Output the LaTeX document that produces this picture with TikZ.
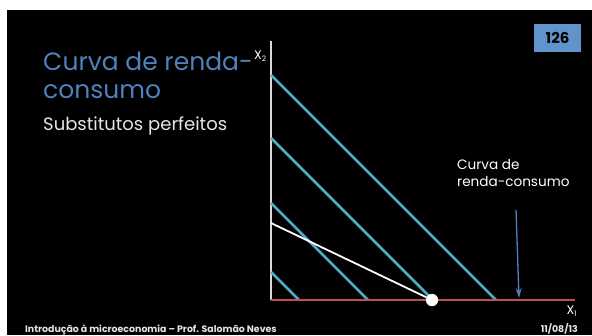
\documentclass[tikz,border=0pt]{standalone}
\usepackage{fontspec}
\setmainfont{Poppins}
\usepackage{tikz}
\usetikzlibrary{arrows.meta,positioning,calc}
\definecolor{cTitle} {RGB}{79,129,189}
\definecolor{cBudget}{RGB}{75,172,198}
\definecolor{cPath}  {RGB}{192,80,77}
\definecolor{cBox}   {RGB}{97,148,204}
\definecolor{cText}  {RGB}{230,230,225}
\tikzset{
  >={Stealth[length=10pt,width=6pt]},
  title/.style={anchor=base west,inner sep=0pt,text=cTitle,font=\fontsize{25}{28}\selectfont},
  sub/.style={anchor=base west,inner sep=0pt,text=cText,font=\fontsize{18}{20}\selectfont},
  lbl/.style={anchor=base west,inner sep=0pt,text=white,font=\fontsize{13.6}{17}\selectfont,align=left},
  axlbl/.style={inner sep=0pt,text=white,font=\fontsize{12.5}{13}\selectfont},
  foot/.style={anchor=base west,inner sep=0pt,text=cText,font=\fontsize{9.4}{10}\selectfont\bfseries},
  axis/.style={-,white!85!black,line width=1.6pt},
  budget/.style={-,cBudget,line width=2.6pt},
  icc/.style={-,cPath,line width=2.6pt},
  pline/.style={-,white,line width=1.8pt},
  optpt/.style={draw=white,fill=white,circle,minimum size=12pt,inner sep=0pt},
  numbox/.style={fill=cBox,minimum width=47pt,minimum height=28pt,inner sep=0pt,
                 font=\fontsize{15}{16}\selectfont\bfseries,text=black},
}
\begin{document}
\begin{tikzpicture}[x=1pt,y=-1pt]
  \useasboundingbox (0,0) rectangle (592,335);
  \fill[black] (7,10) rectangle (592,335);
  % slide texts
  \node[title] (t1) at (43,70) {Curva de renda-};
  \node[title] (t2) at (43,98) {consumo};
  \node[sub]   (st) at (43,130) {Substitutos perfeitos};
  \node[numbox](pg) at (557.5,38) {126};
  % axes
  \coordinate (O)    at (271,300);
  \coordinate (ytop) at (271,41);
  \coordinate (xend) at (575,300);
  \draw[axis] (O) -- (ytop);
  \draw[axis] (O) -- (xend);
  \node[axlbl] (x2) at (260.5,56) {X\textsubscript{\fontsize{7.5}{8}\selectfont 2}};
  \node[axlbl] (x1) at (572,311) {X\textsubscript{\fontsize{7.5}{8}\selectfont 1}};
  % budget lines (slope -1)
  \foreach \h [count=\i] in {225,162,97,28}{
    \coordinate (bu\i) at (271,300-\h);
    \coordinate (bd\i) at (271+\h,300);
    \draw[budget] (bu\i) -- (bd\i);
  }
  % income-consumption path along X1
  \draw[icc] (O) -- (xend);
  % indifference line and optimum
  \coordinate (iu) at (271,223);
  \node[optpt] (opt) at (432,300) {};
  \draw[pline] (iu) -- (opt);
  % label and arrow
  \node[lbl] (cl) at (457,186) {Curva de\\renda-consumo};
  \coordinate (tip) at (519,298);
  \draw[->,cTitle,line width=1.3pt] (516,210) -- (tip);
  % footer
  \node[foot] (f1) at (25,332) {Introdução à microeconomia – Prof. Salomão Neves};
  \node[foot,anchor=base east] (f2) at (578,332) {11/08/13};
\end{tikzpicture}
\end{document}
